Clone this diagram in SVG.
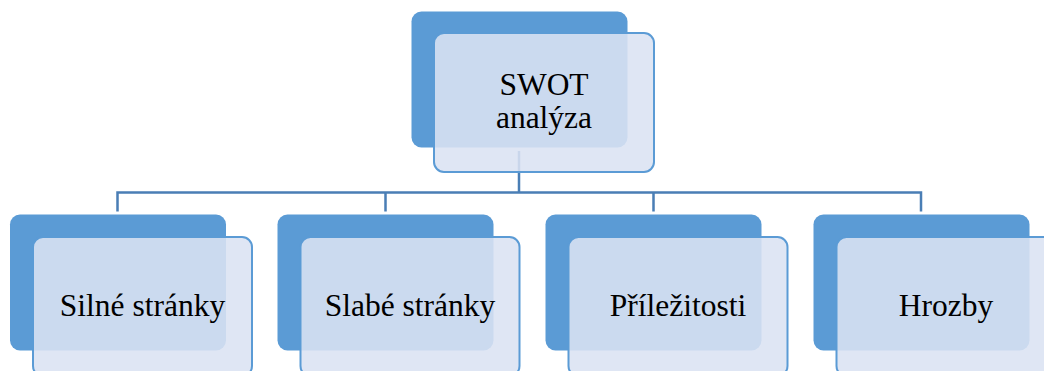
<svg xmlns="http://www.w3.org/2000/svg" width="1044" height="371" viewBox="0 0 1044 371">
<style>
.back{fill:#5B9BD5;}
.front{fill:#DBE2F3;fill-opacity:0.88;stroke:#5B9BD5;stroke-width:2;}
.conn{fill:none;stroke:#4A7EB5;stroke-width:2.5;}
text{fill:#000000;text-anchor:middle;}
</style>
<rect width="1044" height="371" fill="#FFFFFF"/>
<g id="connectors">
<path class="conn" d="M519,151 V192.5 M117.5,211.5 V192.5 H921 V211.5 M385.5,192.5 V211.5 M653.5,192.5 V211.5"/>
</g>
<g font-family="'Liberation Serif', serif" font-size="31.5">
<g id="swot">
<rect class="back" x="411.5" y="11.5" width="216" height="136" rx="10"/>
<rect class="front" x="434" y="33" width="220" height="139" rx="10"/>
<text x="544" y="95">SWOT</text>
<text x="544" y="128">analýza</text>
</g>
<g id="silne">
<rect class="back" x="10" y="214.5" width="216" height="136" rx="10"/>
<rect class="front" x="33" y="237" width="219" height="139" rx="10"/>
<text x="142.5" y="316">Silné stránky</text>
</g>
<g id="slabe">
<rect class="back" x="277.5" y="214.5" width="216" height="136" rx="10"/>
<rect class="front" x="300.5" y="237" width="219" height="139" rx="10"/>
<text x="410" y="316">Slabé stránky</text>
</g>
<g id="prilezitosti">
<rect class="back" x="545.5" y="214.5" width="216" height="136" rx="10"/>
<rect class="front" x="568.5" y="237" width="219" height="139" rx="10"/>
<text x="678" y="316">Příležitosti</text>
</g>
<g id="hrozby">
<rect class="back" x="813.5" y="214.5" width="216" height="136" rx="10"/>
<rect class="front" x="836.5" y="237" width="219" height="139" rx="10"/>
<text x="946" y="316">Hrozby</text>
</g>
</g>
</svg>
